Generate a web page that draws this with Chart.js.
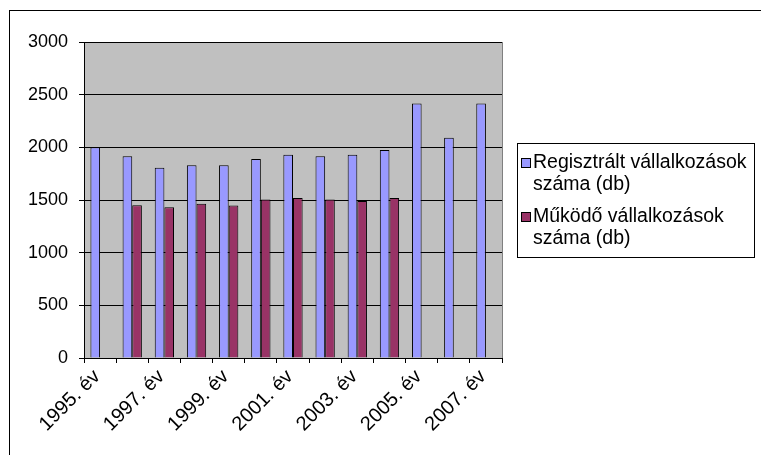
<!DOCTYPE html>
<html>
<head>
<meta charset="utf-8">
<script src="https://cdn.jsdelivr.net/npm/chart.js@4.4.1/dist/chart.umd.min.js"></script>
<style>
body{margin:0;background:#fff}
#wrap{width:761px;height:455px;position:relative}
</style>
</head>
<body>
<div id="wrap"><canvas id="spreadChart"></canvas></div>
<script>
var years = ['1995. év','1996. év','1997. év','1998. év','1999. év','2000. év','2001. év',
             '2002. év','2003. év','2004. év','2005. év','2006. év','2007. év'];
var registered = [2000,1915,1805,1830,1830,1890,1930,1915,1930,1975,2415,2090,2415];
var operating = [null,1450,1432,1465,1448,1505,1518,1505,1490,1518,null,null,null];
var legendLines = [
  ['Regisztrált vállalkozások','száma (db)'],
  ['Működő vállalkozások','száma (db)']
];
var colors = ['#9999FF','#993366'];

var font = {family:'"Liberation Sans", Arial, sans-serif', size:18};

// gray plot area, outer frame and the legend box
var frame = {
  id:'frame',
  beforeDraw:function(chart){
    var c = chart.ctx, a = chart.chartArea;
    c.save();
    c.fillStyle = '#fff';
    c.fillRect(0,0,chart.width,chart.height);
    c.fillStyle = '#C0C0C0';
    c.fillRect(a.left,a.top,a.right-a.left,a.bottom-a.top);
    c.strokeStyle = '#808080';
    c.lineWidth = 1;
    c.beginPath();
    c.moveTo(a.right+0.5,a.top);
    c.lineTo(a.right+0.5,a.bottom);
    c.stroke();
    c.strokeStyle = '#000';
    c.strokeRect(9.5,10.5,800,500);
    c.restore();
  },
  afterDraw:function(chart){
    var c = chart.ctx;
    c.save();
    c.strokeStyle = '#000';
    c.lineWidth = 1;
    c.strokeRect(517.5,143.5,237,114);
    c.font = '19.5px "Liberation Sans", Arial, sans-serif';
    c.textBaseline = 'middle';
    var y0 = [163,217];
    for (var i=0;i<legendLines.length;i++){
      c.fillStyle = colors[i];
      c.fillRect(521.5,y0[i]-4.5,9,9);
      c.strokeRect(521.5,y0[i]-4.5,9,9);
      c.fillStyle = '#000';
      for (var j=0;j<legendLines[i].length;j++){
        c.fillText(legendLines[i][j],533,y0[i]+j*22);
      }
    }
    c.restore();
  }
};

var chart = new Chart(document.getElementById('spreadChart'), {
  type:'bar',
  data:{
    labels:years,
    datasets:[{
      label:'Regisztrált vállalkozások száma (db)',
      data:registered,
      backgroundColor:colors[0],
      borderColor:'#000',
      borderWidth:1,
      categoryPercentage:0.6,
      barPercentage:1
    },{
      label:'Működő vállalkozások száma (db)',
      data:operating,
      backgroundColor:colors[1],
      borderColor:'#000',
      borderWidth:1,
      categoryPercentage:0.6,
      barPercentage:1
    }]
  },
  options:{
    responsive:true,
    maintainAspectRatio:false,
    animation:false,
    layout:{padding:{left:0,top:42,right:259,bottom:0}},
    plugins:{legend:{display:false},tooltip:{enabled:false}},
    scales:{
      x:{
        grid:{drawOnChartArea:false,color:'#000',tickLength:5},
        border:{color:'#000'},
        ticks:{
          color:'#000',font:{family:font.family,size:20},autoSkip:false,maxRotation:45,minRotation:45,
          padding:2,labelOffset:-3,
          callback:function(v,i){ return i%2===0 ? years[i] : ''; }
        },
        afterFit:function(s){ s.height = 97; }
      },
      y:{
        min:0,max:3000,
        grid:{color:'#000',tickLength:5},
        border:{color:'#000'},
        ticks:{stepSize:500,color:'#000',font:font,padding:11,
          callback:function(v){ return String(v); }},
        afterFit:function(s){ s.width = 84; }
      }
    }
  },
  plugins:[frame]
});
</script>
</body>
</html>
